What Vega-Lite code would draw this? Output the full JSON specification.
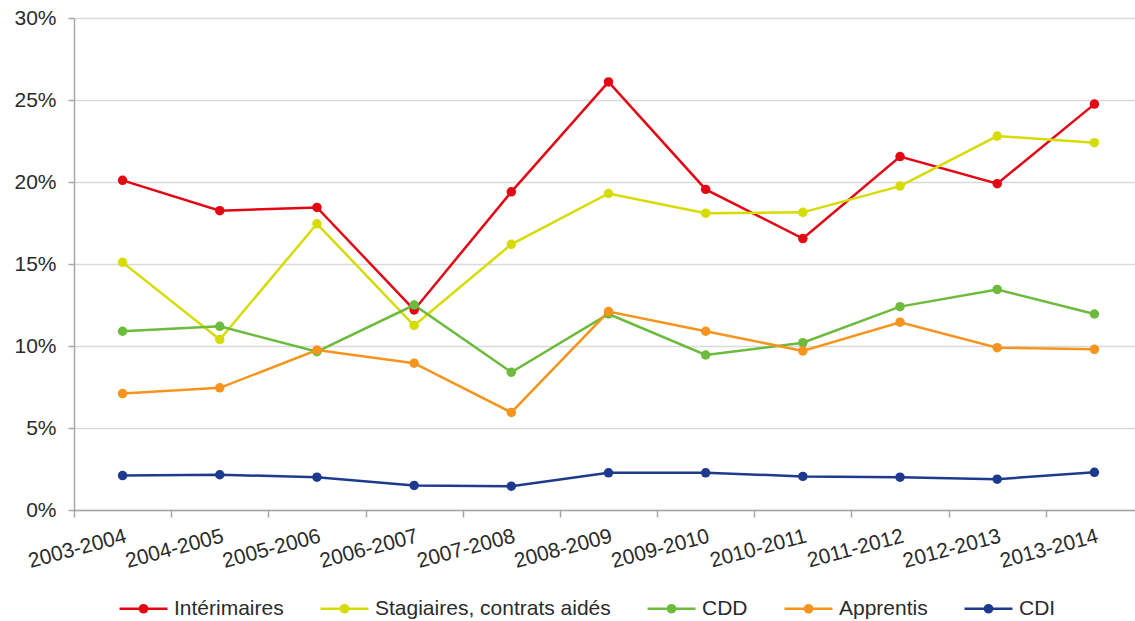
{
  "$schema": "https://vega.github.io/schema/vega-lite/v6.json",
  "autosize": {"type": "none"},
  "padding": {"left": 74, "top": 18, "right": 0, "bottom": 111},
  "width": 1061,
  "height": 492,
  "background": "white",
  "config": {
    "font": "Liberation Sans",
    "view": {"stroke": null}
  },
  "data": {
    "values": [
      {"period": "2003-2004", "type": "Intérimaires", "value": 0.201},
      {"period": "2004-2005", "type": "Intérimaires", "value": 0.1825},
      {"period": "2005-2006", "type": "Intérimaires", "value": 0.1845},
      {"period": "2006-2007", "type": "Intérimaires", "value": 0.122},
      {"period": "2007-2008", "type": "Intérimaires", "value": 0.194},
      {"period": "2008-2009", "type": "Intérimaires", "value": 0.261},
      {"period": "2009-2010", "type": "Intérimaires", "value": 0.1955},
      {"period": "2010-2011", "type": "Intérimaires", "value": 0.1655},
      {"period": "2011-2012", "type": "Intérimaires", "value": 0.2155},
      {"period": "2012-2013", "type": "Intérimaires", "value": 0.199},
      {"period": "2013-2014", "type": "Intérimaires", "value": 0.2475},
      {"period": "2003-2004", "type": "Stagiaires, contrats aidés", "value": 0.151},
      {"period": "2004-2005", "type": "Stagiaires, contrats aidés", "value": 0.104},
      {"period": "2005-2006", "type": "Stagiaires, contrats aidés", "value": 0.1745},
      {"period": "2006-2007", "type": "Stagiaires, contrats aidés", "value": 0.1125},
      {"period": "2007-2008", "type": "Stagiaires, contrats aidés", "value": 0.162},
      {"period": "2008-2009", "type": "Stagiaires, contrats aidés", "value": 0.193},
      {"period": "2009-2010", "type": "Stagiaires, contrats aidés", "value": 0.181},
      {"period": "2010-2011", "type": "Stagiaires, contrats aidés", "value": 0.1815},
      {"period": "2011-2012", "type": "Stagiaires, contrats aidés", "value": 0.1975},
      {"period": "2012-2013", "type": "Stagiaires, contrats aidés", "value": 0.228},
      {"period": "2013-2014", "type": "Stagiaires, contrats aidés", "value": 0.224},
      {"period": "2003-2004", "type": "CDD", "value": 0.109},
      {"period": "2004-2005", "type": "CDD", "value": 0.112},
      {"period": "2005-2006", "type": "CDD", "value": 0.0965},
      {"period": "2006-2007", "type": "CDD", "value": 0.125},
      {"period": "2007-2008", "type": "CDD", "value": 0.084},
      {"period": "2008-2009", "type": "CDD", "value": 0.1195},
      {"period": "2009-2010", "type": "CDD", "value": 0.0945},
      {"period": "2010-2011", "type": "CDD", "value": 0.102},
      {"period": "2011-2012", "type": "CDD", "value": 0.124},
      {"period": "2012-2013", "type": "CDD", "value": 0.1345},
      {"period": "2013-2014", "type": "CDD", "value": 0.1195},
      {"period": "2003-2004", "type": "Apprentis", "value": 0.071},
      {"period": "2004-2005", "type": "Apprentis", "value": 0.0745},
      {"period": "2005-2006", "type": "Apprentis", "value": 0.0975},
      {"period": "2006-2007", "type": "Apprentis", "value": 0.0895},
      {"period": "2007-2008", "type": "Apprentis", "value": 0.0595},
      {"period": "2008-2009", "type": "Apprentis", "value": 0.121},
      {"period": "2009-2010", "type": "Apprentis", "value": 0.109},
      {"period": "2010-2011", "type": "Apprentis", "value": 0.097},
      {"period": "2011-2012", "type": "Apprentis", "value": 0.1145},
      {"period": "2012-2013", "type": "Apprentis", "value": 0.099},
      {"period": "2013-2014", "type": "Apprentis", "value": 0.098},
      {"period": "2003-2004", "type": "CDI", "value": 0.021},
      {"period": "2004-2005", "type": "CDI", "value": 0.0215},
      {"period": "2005-2006", "type": "CDI", "value": 0.02},
      {"period": "2006-2007", "type": "CDI", "value": 0.015},
      {"period": "2007-2008", "type": "CDI", "value": 0.0145},
      {"period": "2008-2009", "type": "CDI", "value": 0.0227},
      {"period": "2009-2010", "type": "CDI", "value": 0.0227},
      {"period": "2010-2011", "type": "CDI", "value": 0.0205},
      {"period": "2011-2012", "type": "CDI", "value": 0.02},
      {"period": "2012-2013", "type": "CDI", "value": 0.0188},
      {"period": "2013-2014", "type": "CDI", "value": 0.023}
    ]
  },
  "mark": {
    "type": "line",
    "strokeWidth": 2.5,
    "point": {"filled": true, "size": 90, "opacity": 1}
  },
  "encoding": {
    "x": {
      "field": "period",
      "type": "ordinal",
      "sort": null,
      "scale": {"type": "band", "paddingInner": 0, "paddingOuter": 0, "range": [0, 1069]},
      "axis": {
        "title": null,
        "tickBand": "extent",
        "labelAngle": -15,
        "labelAlign": "right",
        "labelBaseline": "top",
        "labelFontSize": 21,
        "labelColor": "#2b2b2b",
        "labelPadding": 8,
        "domainColor": "#a6a6a6",
        "domainWidth": 1.5,
        "tickColor": "#a6a6a6",
        "tickWidth": 1.5,
        "tickSize": 7,
        "grid": false
      }
    },
    "y": {
      "field": "value",
      "type": "quantitative",
      "scale": {"domain": [0, 0.3], "nice": false},
      "axis": {
        "title": null,
        "values": [0, 0.05, 0.1, 0.15, 0.2, 0.25, 0.3],
        "format": ".0%",
        "labelFontSize": 21,
        "labelColor": "#2b2b2b",
        "labelPadding": 12,
        "domainColor": "#a6a6a6",
        "domainWidth": 1.5,
        "tickColor": "#a6a6a6",
        "tickWidth": 1.5,
        "tickSize": 6,
        "gridColor": "#d9d9d9",
        "gridWidth": 1.5
      }
    },
    "color": {
      "field": "type",
      "type": "nominal",
      "scale": {
        "domain": ["Intérimaires", "Stagiaires, contrats aidés", "CDD", "Apprentis", "CDI"],
        "range": ["#e30613", "#d6dc00", "#6cbb3c", "#f7941d", "#1d3a8f"]
      },
      "legend": {
        "title": null,
        "orient": "none",
        "legendX": 44,
        "legendY": 565,
        "direction": "horizontal",
        "labelFontSize": 21,
        "labelColor": "#2b2b2b",
        "labelLimit": 0,
        "symbolType": "M-1,0L1,0M0.15,0A0.15,0.15,0,1,1,-0.15,0A0.15,0.15,0,1,1,0.15,0Z",
        "symbolSize": 2300,
        "symbolStrokeWidth": 2.5,
        "symbolOpacity": 1,
        "labelOffset": 5,
        "columnPadding": 31,
        "encode": {
          "symbols": {"update": {"fill": {"scale": "color", "field": "value"}}}
        }
      }
    }
  }
}
